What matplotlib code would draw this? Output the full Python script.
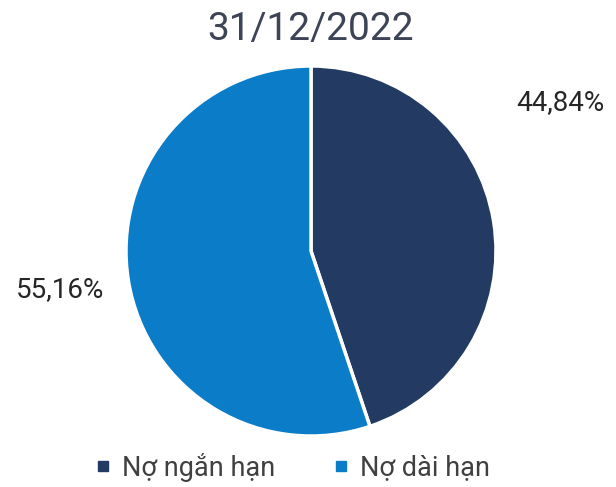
import matplotlib
matplotlib.use("Agg")
import matplotlib.pyplot as plt
from matplotlib.lines import Line2D

plt.rcParams['font.family'] = ['Roboto', 'DejaVu Sans']

title = "31/12/2022"
categories = ["Nợ ngắn hạn", "Nợ dài hạn"]
values = [44.84, 55.16]
value_labels = ["44,84%", "55,16%"]
colors = ["#233a62", "#0a7cc8"]

fig = plt.figure(figsize=(6.16, 4.87), dpi=100)
ax = fig.add_axes([126 / 616, 51 / 487, 370 / 616, 370 / 487])

wedges, _ = ax.pie(values, colors=colors, startangle=90, counterclock=False,
                   wedgeprops=dict(edgecolor="white", linewidth=2.5))
ax.set_xlim(-1.0, 1.0)
ax.set_ylim(-1.0, 1.0)
ax.set_aspect("equal")
ax.axis("off")

# percentage labels outside the pie
fig.text(560 / 616, 1 - 103 / 487, value_labels[0], ha="center", va="center",
         fontsize=20, color="#262626")
fig.text(60 / 616, 1 - 290 / 487, value_labels[1], ha="center", va="center",
         fontsize=20, color="#262626")

fig.text(311 / 616, 1 - 30 / 487, title, ha="center", va="center",
         fontsize=28, color="#3d4456")

handles = [Line2D([], [], marker="s", linestyle="none", markersize=7,
                  markerfacecolor=c, markeredgecolor=c) for c in colors]
fig.legend(handles, categories, loc="center", bbox_to_anchor=(291 / 616, 1 - 467 / 487),
           ncol=2, frameon=False, fontsize=19.5, handletextpad=0.3, columnspacing=2.0,
           labelcolor="#404040", handlelength=0.8)

fig.savefig("out.png", dpi=100, facecolor="white")
